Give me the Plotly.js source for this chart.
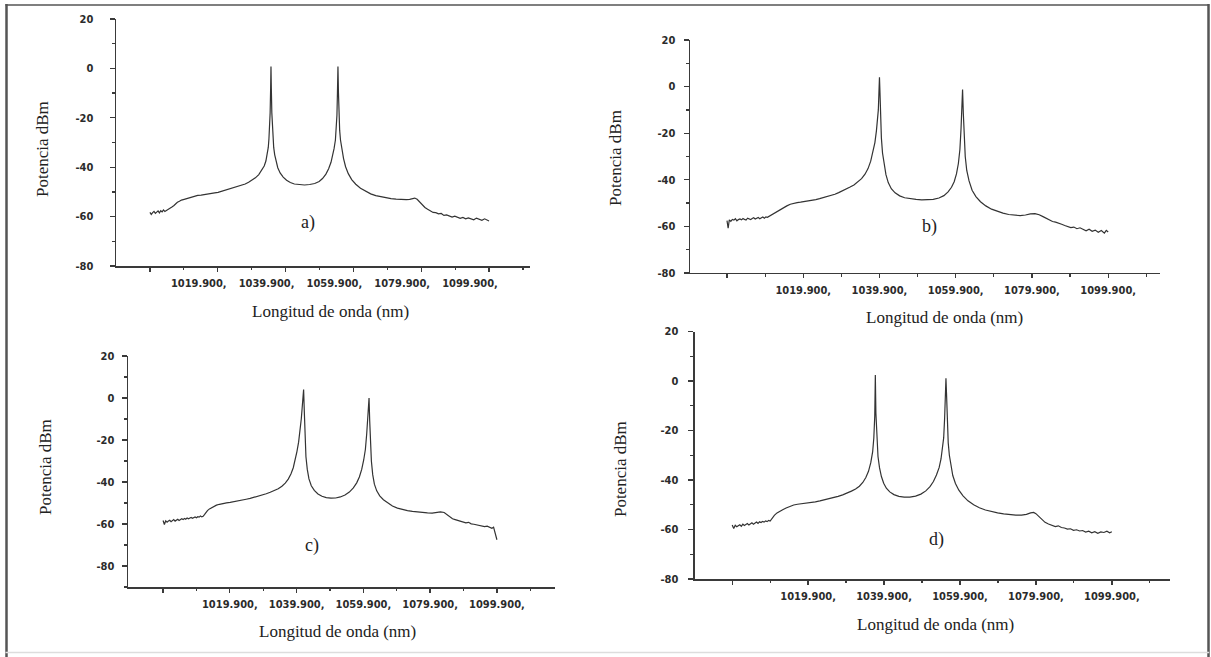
<!DOCTYPE html>
<html>
<head>
<meta charset="utf-8">
<script src="https://cdn.plot.ly/plotly-3.0.1.min.js"></script>
<style>
html,body{margin:0;padding:0;background:#fff;}
#chart{width:1211px;height:657px;}
#chart .annotation-text{font-family:"Liberation Serif","DejaVu Serif","Times New Roman",serif !important;}
#chart .xtick text, #chart .ytick text{font-family:"DejaVu Sans Condensed","DejaVu Sans",sans-serif !important; font-stretch:condensed !important;}
</style>
</head>
<body>
<div id="chart"></div>
<script>
// ---- data (wavelength nm, power dBm) ----
const wlA = [
999.9, 1000.3, 1000.7, 1001.1, 1001.5, 1001.9, 1002.3, 1002.7, 1003.1, 1003.5,
1003.9, 1004.3, 1004.7, 1005.1, 1005.5, 1006.0, 1006.5, 1007.0, 1007.5, 1008.0,
1008.6, 1009.2, 1010.0, 1011.0, 1012.0, 1013.0, 1014.0, 1015.0, 1016.0, 1017.0,
1018.0, 1019.0, 1020.0, 1021.0, 1022.0, 1023.0, 1024.0, 1025.0, 1026.0, 1027.0,
1028.0, 1029.0, 1030.0, 1031.0, 1032.0, 1033.0, 1033.6, 1034.1, 1034.5, 1034.8,
1035.0, 1035.2, 1035.35, 1035.5, 1035.6, 1035.7, 1035.85, 1036.0, 1036.2, 1036.4,
1036.7, 1037.1, 1037.6, 1038.3, 1039.2, 1040.2, 1041.3, 1042.5, 1044.0, 1045.5,
1047.0, 1048.5, 1049.8, 1050.8, 1051.8, 1052.6, 1053.3, 1053.8, 1054.2, 1054.6,
1054.85, 1055.05, 1055.2, 1055.35, 1055.5, 1055.65, 1055.85, 1056.1, 1056.5, 1057.0,
1057.6, 1058.4, 1059.4, 1060.6, 1062.0, 1063.5, 1065.0, 1066.5, 1068.0, 1069.5,
1071.0, 1072.5, 1074.0, 1075.5, 1076.5, 1077.3, 1078.0, 1078.7, 1079.4, 1080.2,
1081.0, 1081.8, 1082.6, 1083.4, 1084.2, 1085.0, 1085.8, 1086.6, 1087.4, 1088.2,
1089.0, 1089.8, 1090.6, 1091.4, 1092.2, 1093.0, 1093.8, 1094.6, 1095.4, 1096.2,
1097.0, 1097.8, 1098.6, 1099.4, 1099.9];
const powA = [
-58.3, -59.1, -58.4, -57.9, -58.7, -58.2, -57.7, -58.5, -57.6, -58.1,
-57.3, -57.9, -57.6, -57.2, -56.8, -56.6, -56.0, -55.5, -54.8, -54.2,
-53.8, -53.3, -53.0, -52.6, -52.0, -51.6, -51.4, -51.3, -51.0, -50.9,
-50.7, -50.4, -50.2, -49.8, -49.5, -49.1, -48.7, -48.3, -47.9, -47.4,
-46.8, -46.1, -45.3, -44.3, -43.0, -41.0, -39.5, -37.5, -35.0, -32.0,
-28.5, -24.0, -18.0, -8.0, 0.8, -8.0, -18.0, -24.0, -28.5, -32.0,
-35.0, -37.8, -40.2, -42.3, -44.0, -45.3, -46.2, -46.8, -47.1, -47.2,
-47.0, -46.6, -45.8, -44.6, -42.8, -40.6, -38.0, -35.5, -32.5, -29.0,
-25.0, -19.0, -10.0, 0.8, -10.0, -19.0, -25.0, -29.0, -32.8, -36.5,
-39.8, -42.6, -45.0, -46.9, -48.5, -49.8, -50.8, -51.5, -52.0, -52.4,
-52.7, -52.9, -53.1, -53.1, -53.0, -52.6, -52.5, -53.0, -54.0, -55.2,
-56.3, -57.0, -57.6, -58.3, -58.4, -58.9, -58.7, -59.5, -59.3, -59.6,
-60.2, -59.8, -60.1, -60.7, -60.3, -60.9, -60.5, -60.8, -61.3, -60.6,
-61.0, -61.5, -60.9, -61.4, -61.8];

const wlB = [
999.9, 1000.2, 1000.5, 1000.9, 1001.3, 1001.7, 1002.1, 1002.5, 1002.9, 1003.3,
1003.7, 1004.1, 1004.5, 1004.9, 1005.3, 1005.7, 1006.1, 1006.5, 1006.9, 1007.3,
1007.7, 1008.1, 1008.5, 1008.9, 1009.3, 1009.7, 1010.1, 1010.5, 1010.9, 1011.4,
1012.0, 1012.7, 1013.4, 1014.1, 1014.8, 1015.6, 1016.5, 1017.4, 1018.3, 1019.2,
1020.2, 1021.2, 1022.2, 1023.2, 1024.2, 1025.2, 1026.2, 1027.2, 1028.2, 1029.2,
1030.2, 1031.2, 1032.2, 1033.2, 1034.2, 1035.2, 1036.1, 1036.9, 1037.6, 1038.2,
1038.7, 1039.1, 1039.4, 1039.6, 1039.75, 1039.9, 1040.05, 1040.2, 1040.4, 1040.7,
1041.1, 1041.6, 1042.2, 1043.0, 1044.0, 1045.2, 1046.5, 1048.0, 1049.5, 1051.0,
1052.5, 1054.0, 1055.5, 1056.8, 1057.9, 1058.8, 1059.5, 1060.1, 1060.6, 1061.0,
1061.3, 1061.5, 1061.7, 1061.9, 1062.1, 1062.4, 1062.8, 1063.4, 1064.2, 1065.2,
1066.4, 1067.8, 1069.3, 1070.8, 1072.3, 1073.8, 1075.3, 1076.8, 1078.2, 1079.5,
1080.7, 1081.8, 1082.8, 1083.7, 1084.5, 1085.3, 1086.1, 1086.9, 1087.7, 1088.5,
1089.3, 1090.1, 1090.9, 1091.7, 1092.5, 1093.3, 1094.1, 1094.9, 1095.7, 1096.5,
1097.3, 1098.1, 1098.9, 1099.4, 1099.9];
const powB = [
-57.5, -60.8, -57.2, -57.8, -57.0, -57.3, -56.7, -57.6, -57.1, -56.8,
-57.2, -56.6, -57.0, -57.3, -56.5, -56.9, -57.1, -56.6, -56.3, -56.8,
-56.5, -56.2, -56.7, -56.4, -56.0, -56.5, -55.9, -56.1, -55.7, -55.2,
-54.6, -53.9, -53.3, -52.6, -51.9, -51.2, -50.5, -50.0, -49.8, -49.6,
-49.4, -49.2, -48.9, -48.5, -48.1, -47.7, -47.2, -46.7, -46.2, -45.5,
-44.8, -44.0, -43.1, -42.2, -41.0, -39.5, -37.6, -35.2, -32.0, -28.0,
-24.0, -19.0, -14.5, -10.0, -3.0, 4.0, -3.5, -14.0, -22.0, -28.5,
-33.5, -37.8, -41.2, -43.8, -45.6, -46.9, -47.7, -48.2, -48.4, -48.6,
-48.6, -48.4, -47.8, -46.8, -45.2, -43.2, -40.8, -37.5, -33.0, -27.0,
-18.0, -11.0, -1.2, -11.5, -22.0, -30.0, -36.0, -40.5, -44.5, -47.2,
-49.4, -51.2, -52.6, -53.6, -54.3, -54.9, -55.2, -55.4, -55.1, -54.6,
-54.5, -55.0, -55.8, -56.6, -57.2, -57.9, -58.2, -58.8, -59.1, -59.6,
-59.9, -60.5, -60.3, -61.0, -60.6, -61.4, -61.9, -61.2, -62.1, -61.6,
-62.5, -61.8, -62.9, -61.7, -62.4];

const wlC = [
999.9, 1000.3, 1000.7, 1001.1, 1001.5, 1001.9, 1002.3, 1002.7, 1003.1, 1003.5,
1003.9, 1004.3, 1004.7, 1005.1, 1005.5, 1005.9, 1006.3, 1006.7, 1007.1, 1007.5,
1007.9, 1008.3, 1008.7, 1009.1, 1009.5, 1009.9, 1010.3, 1010.7, 1011.1, 1011.5,
1011.9, 1012.3, 1012.7, 1013.2, 1013.8, 1014.4, 1015.1, 1015.9, 1016.8, 1017.8,
1018.9, 1020.0, 1021.2, 1022.4, 1023.6, 1024.8, 1026.0, 1027.2, 1028.4, 1029.6,
1030.8, 1032.0, 1033.2, 1034.4, 1035.5, 1036.5, 1037.4, 1038.2, 1038.9, 1039.5,
1040.0, 1040.5, 1040.9, 1041.3, 1041.6, 1041.8, 1042.0, 1042.2, 1042.4, 1042.7,
1043.1, 1043.6, 1044.3, 1045.2, 1046.3, 1047.5, 1048.8, 1050.2, 1051.6, 1053.0,
1054.4, 1055.7, 1056.9, 1057.9, 1058.7, 1059.4, 1060.0, 1060.5, 1060.9, 1061.2,
1061.4, 1061.6, 1061.8, 1062.0, 1062.3, 1062.7, 1063.2, 1063.9, 1064.8, 1065.9,
1067.2, 1068.6, 1070.1, 1071.6, 1073.1, 1074.6, 1076.1, 1077.6, 1079.1, 1080.5,
1081.8, 1083.0, 1084.1, 1085.0, 1085.8, 1086.6, 1087.4, 1088.2, 1089.0, 1089.8,
1090.6, 1091.4, 1092.2, 1093.0, 1093.8, 1094.6, 1095.4, 1096.2, 1097.0, 1097.8,
1098.4, 1098.9, 1099.3, 1099.6, 1099.9];
const powC = [
-58.3, -60.2, -58.5, -59.1, -58.6, -58.2, -58.9, -58.4, -57.9, -58.6,
-58.1, -57.7, -58.3, -57.9, -57.5, -57.9, -57.4, -57.7, -57.1, -57.5,
-57.2, -56.9, -57.3, -56.8, -56.6, -57.0, -56.5, -56.7, -56.2, -56.6,
-56.3, -55.5, -54.6, -53.6, -52.8, -52.2, -51.6, -51.0, -50.6, -50.2,
-49.9, -49.7, -49.4, -49.0, -48.6, -48.2, -47.8, -47.3, -46.8, -46.2,
-45.6, -44.9, -44.1, -43.2, -42.0, -40.5, -38.6, -36.2, -33.2, -29.5,
-25.5, -21.0, -16.0, -10.0, -4.0, 1.0, 4.0, -6.0, -20.0, -28.0,
-34.0, -38.5, -41.8, -44.0, -45.7, -46.8, -47.4, -47.7, -47.6, -47.1,
-46.2, -44.8, -42.8, -40.4, -37.6, -34.0, -29.5, -24.5, -17.0, -11.0,
-5.0, 0.0, -11.0, -22.0, -30.0, -36.5, -41.0, -44.2, -46.6, -48.4,
-50.0, -51.4, -52.4, -53.1, -53.6, -54.0, -54.3, -54.5, -54.7, -54.8,
-54.6, -54.2, -54.5, -55.6, -56.8, -57.5, -57.9, -58.3, -58.6, -58.8,
-59.4, -59.2, -59.9, -60.1, -60.4, -60.8, -60.9, -61.2, -61.0, -61.6,
-62.0, -61.5, -63.5, -65.0, -67.5];

const wlD = [
999.9, 1000.3, 1000.7, 1001.1, 1001.5, 1001.9, 1002.3, 1002.7, 1003.1, 1003.5,
1003.9, 1004.3, 1004.7, 1005.1, 1005.5, 1005.9, 1006.3, 1006.7, 1007.1, 1007.5,
1007.9, 1008.3, 1008.7, 1009.1, 1009.5, 1009.9, 1010.4, 1011.0, 1011.7, 1012.4,
1013.2, 1014.1, 1015.1, 1016.1, 1017.1, 1018.2, 1019.4, 1020.6, 1021.8, 1023.0,
1024.2, 1025.4, 1026.6, 1027.8, 1029.0, 1030.2, 1031.3, 1032.4, 1033.4, 1034.3,
1035.1, 1035.8, 1036.4, 1036.9, 1037.2, 1037.45, 1037.6, 1037.75, 1038.0, 1038.3,
1038.7, 1039.2, 1039.8, 1040.5, 1041.4, 1042.5, 1043.8, 1045.2, 1046.7, 1048.2,
1049.6, 1050.9, 1052.0, 1052.9, 1053.7, 1054.4, 1054.9, 1055.3, 1055.6, 1055.85,
1056.05, 1056.2, 1056.35, 1056.55, 1056.8, 1057.1, 1057.5, 1058.0, 1058.7, 1059.6,
1060.7, 1062.0, 1063.5, 1065.0, 1066.6, 1068.2, 1069.8, 1071.4, 1073.0, 1074.6,
1076.1, 1077.4, 1078.5, 1079.3, 1079.9, 1080.6, 1081.4, 1082.3, 1083.2, 1084.1,
1085.0, 1085.8, 1086.6, 1087.4, 1088.2, 1089.0, 1089.8, 1090.6, 1091.4, 1092.2,
1093.0, 1093.8, 1094.6, 1095.4, 1096.2, 1097.0, 1097.8, 1098.6, 1099.3, 1099.9];
const powD = [
-58.2, -59.6, -58.3, -58.9, -58.5, -58.1, -58.7, -57.8, -58.4, -58.0,
-57.6, -58.2, -57.7, -57.3, -57.9, -57.4, -57.0, -57.5, -56.9, -57.2,
-56.7, -57.0, -56.5, -56.8, -56.3, -56.6, -55.4, -54.3, -53.3, -52.6,
-52.0, -51.3, -50.6, -50.1, -49.8, -49.6, -49.4, -49.1, -48.8, -48.4,
-48.0, -47.6, -47.1, -46.6, -46.0, -45.3, -44.5, -43.6, -42.5, -41.0,
-39.0, -36.5, -33.0, -28.5, -23.0, -14.0, 2.4, -13.0, -24.0, -30.5,
-35.0, -38.6, -41.3, -43.3, -44.8, -45.9, -46.6, -46.9, -46.9, -46.5,
-45.7, -44.4, -42.7, -40.6, -38.0, -35.0, -31.5, -27.5, -23.0, -15.0,
-5.0, 1.1, -5.0, -18.0, -25.0, -30.0, -34.5, -38.2, -41.4, -44.1,
-46.4, -48.4, -50.0, -51.2, -52.1, -52.8, -53.3, -53.7, -54.0, -54.2,
-54.2, -53.9, -53.3, -53.1, -53.6, -54.7, -56.1, -57.1, -57.8, -58.2,
-58.8, -58.5, -59.2, -59.4, -59.8, -59.7, -60.3, -60.1, -60.6, -60.4,
-61.0, -60.7, -61.3, -60.9, -61.5, -61.0, -61.2, -60.7, -61.3, -60.9];

// ---- tick labels ----
const xTickVals = [999.9, 1019.9, 1039.9, 1059.9, 1079.9, 1099.9];
const xTickText = ['', '1019.900,', '1039.900,', '1059.900,', '1079.900,', '1099.900,'];
const xMinorVals = [1009.9, 1029.9, 1049.9, 1069.9, 1089.9, 1109.9];
const yTickVals = [-80, -60, -40, -20, 0, 20];
const yTickText = ['-80', '-60', '-40', '-20', '0', '20'];
const yMinorVals = [-90, -70, -50, -30, -10, 10];
const panelLabels = ['a)', 'b)', 'c)', 'd)'];
const xTitle = 'Longitud de onda (nm)';
const yTitle = 'Potencia dBm';

const AX = '#3a3a3a';
const tickFont = {family: 'DejaVu Sans Condensed', size: 11, color: '#2b2b2b', weight: 'bold'};
const serif = 'Liberation Serif';

function xAxis(dom, rng, anchor, shift) {
  return {domain: dom, range: rng, anchor: anchor, showline: true, linecolor: AX, linewidth: 1.5,
    showgrid: false, zeroline: false, ticks: 'outside', ticklen: 4, tickwidth: 1.3, tickcolor: AX,
    tickmode: 'array', tickvals: xTickVals, ticktext: xTickText, tickfont: tickFont,
    ticklabelshift: shift, ticklabelstandoff: 2,
    minor: {tickmode: 'array', tickvals: xMinorVals, ticks: 'outside', ticklen: 2.5, tickwidth: 1.2, tickcolor: AX, showgrid: false},
    fixedrange: true};
}
function yAxis(dom, rng, anchor, standoff) {
  return {domain: dom, range: rng, anchor: anchor, showline: true, linecolor: AX, linewidth: 1.5,
    showgrid: false, zeroline: false, ticks: 'outside', ticklen: 5, tickwidth: 1.3, tickcolor: AX,
    tickmode: 'array', tickvals: yTickVals, ticktext: yTickText, tickfont: tickFont,
    ticklabelstandoff: standoff,
    minor: {tickmode: 'array', tickvals: yMinorVals, ticks: 'outside', ticklen: 3, tickwidth: 1.2, tickcolor: AX, showgrid: false},
    fixedrange: true};
}

const lineStyle = {color: '#333333', width: 1.2};
const traces = [
  {x: wlA, y: powA, xaxis: 'x', yaxis: 'y', type: 'scatter', mode: 'lines', line: lineStyle, hoverinfo: 'skip'},
  {x: wlB, y: powB, xaxis: 'x2', yaxis: 'y2', type: 'scatter', mode: 'lines', line: lineStyle, hoverinfo: 'skip'},
  {x: wlC, y: powC, xaxis: 'x3', yaxis: 'y3', type: 'scatter', mode: 'lines', line: lineStyle, hoverinfo: 'skip'},
  {x: wlD, y: powD, xaxis: 'x4', yaxis: 'y4', type: 'scatter', mode: 'lines', line: lineStyle, hoverinfo: 'skip'}
];

function ann(text, x, y, xref, yref, size, angle) {
  return {text: text, x: x, y: y, xref: xref, yref: yref, showarrow: false, textangle: angle || 0,
    xanchor: 'center', yanchor: 'middle', font: {family: serif, size: size, color: '#222'}};
}

const annotations = [
  ann(xTitle, 0.2733, 0.5266, 'paper', 'paper', 17),
  ann(yTitle, 0.0347, 0.7732, 'paper', 'paper', 17, -90),
  ann(xTitle, 0.7803, 0.5160, 'paper', 'paper', 17),
  ann(yTitle, 0.5078, 0.7595, 'paper', 'paper', 17, -90),
  ann(xTitle, 0.2791, 0.0381, 'paper', 'paper', 17),
  ann(yTitle, 0.0380, 0.2892, 'paper', 'paper', 17, -90),
  ann(xTitle, 0.7721, 0.0502, 'paper', 'paper', 17),
  ann(yTitle, 0.5120, 0.2861, 'paper', 'paper', 17, -90),
  ann(panelLabels[0], 1046.5, -62.2, 'x', 'y', 18),
  ann(panelLabels[1], 1052.9, -60.1, 'x2', 'y2', 18),
  ann(panelLabels[2], 1044.5, -70.4, 'x3', 'y3', 18),
  ann(panelLabels[3], 1053.7, -64.2, 'x4', 'y4', 18)
];

const shapes = [
  {type: 'line', xref: 'paper', yref: 'paper', x0: 0.00537, x1: 0.00537, y0: 0.994, y1: 0, line: {color: '#555', width: 2.5}},
  {type: 'line', xref: 'paper', yref: 'paper', x0: 0.0045, x1: 0.9985, y0: 0.99239, y1: 0.99239, line: {color: '#555', width: 1.5}},
  {type: 'line', xref: 'paper', yref: 'paper', x0: 0.99794, x1: 0.99794, y0: 0.994, y1: 0, line: {color: '#555', width: 2.5}},
  {type: 'line', xref: 'paper', yref: 'paper', x0: 0.0045, x1: 0.9985, y0: 0.00685, y1: 0.00685, line: {color: '#dddddd', width: 1.5}}
];

const layout = {
  width: 1211, height: 657, margin: {l: 0, r: 0, t: 0, b: 0},
  paper_bgcolor: '#ffffff', plot_bgcolor: 'rgba(0,0,0,0)', showlegend: false,
  font: {family: serif},
  xaxis: xAxis([0.0958, 0.4377], [989.9, 1112.0], 'y', -19),
  yaxis: yAxis([0.5951, 0.9711], [-80, 20], 'x', 14),
  xaxis2: xAxis([0.5698, 0.9579], [990.2, 1113.5], 'y2', 0),
  yaxis2: yAxis([0.5845, 0.9391], [-80, 20], 'x2', 6),
  xaxis3: xAxis([0.1057, 0.4583], [989.4, 1117.3], 'y3', 0),
  yaxis3: yAxis([0.1065, 0.4581], [-90, 20], 'x3', 5),
  xaxis4: xAxis([0.5739, 0.9661], [990.1, 1115.2], 'y4', 0),
  yaxis4: yAxis([0.1187, 0.4954], [-80, 20], 'x4', 8),
  annotations: annotations, shapes: shapes
};

Plotly.newPlot('chart', traces, layout, {displayModeBar: false, staticPlot: true});
</script>
</body>
</html>
